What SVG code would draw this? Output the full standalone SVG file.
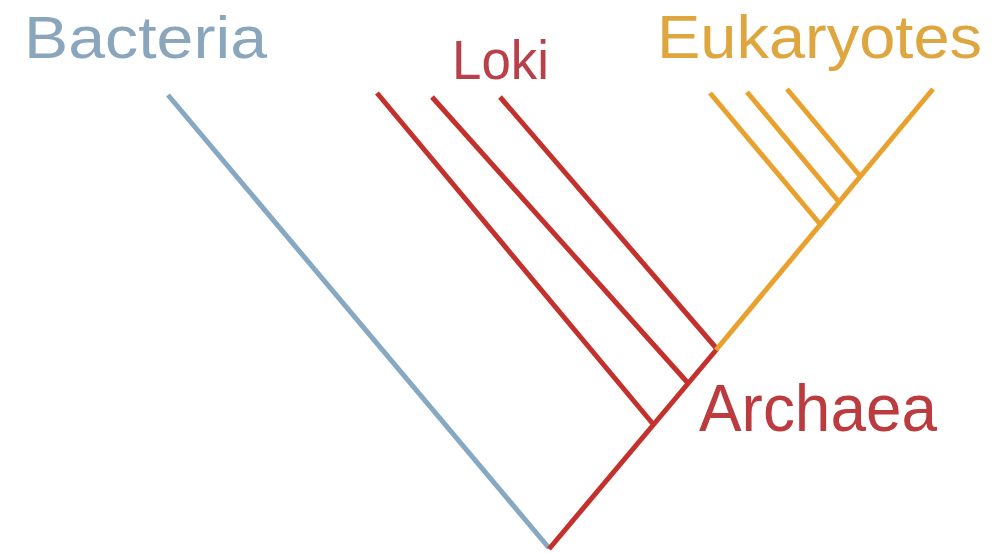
<svg xmlns="http://www.w3.org/2000/svg" width="1002" height="553" viewBox="0 0 1002 553">
<style>
.ln{fill:none;stroke-width:5;stroke-linecap:butt;stroke-linejoin:miter}
.blue{stroke:#86a8c2}
.red{stroke:#c4302b}
.orange{stroke:#e9a12e}
.lbl{font-family:"Liberation Sans",Arial,sans-serif}
</style>
<rect width="1002" height="553" fill="#ffffff"/>
<g id="connectors">
<line class="ln blue" x1="168" y1="95" x2="549" y2="548"/>
<polyline class="ln red" points="377,93 653,424"/>
<polyline class="ln red" points="432,97 687,382"/>
<polyline class="ln red" points="500,97 717,349"/>
<polyline class="ln red" points="549,549 717,349"/>
<polyline class="ln orange" points="716,350 933,89"/>
<polyline class="ln orange" points="710,93 820,224"/>
<polyline class="ln orange" points="747,92 839,202"/>
<polyline class="ln orange" points="787,89 860,176"/>
</g>
<g id="bacteria"><text class="lbl" x="24" y="58" font-size="60" fill="#8aa6bc" textLength="243" lengthAdjust="spacingAndGlyphs">Bacteria</text></g>
<g id="loki"><text class="lbl" x="452" y="79" font-size="55" fill="#b8404a" textLength="97" lengthAdjust="spacingAndGlyphs">Loki</text></g>
<g id="eukaryotes"><text class="lbl" x="657" y="58" font-size="61" fill="#dea63f" textLength="325" lengthAdjust="spacingAndGlyphs">Eukaryotes</text></g>
<g id="archaea"><text class="lbl" x="699" y="431" font-size="66" fill="#bb3b3f" textLength="238" lengthAdjust="spacingAndGlyphs">Archaea</text></g>
</svg>
